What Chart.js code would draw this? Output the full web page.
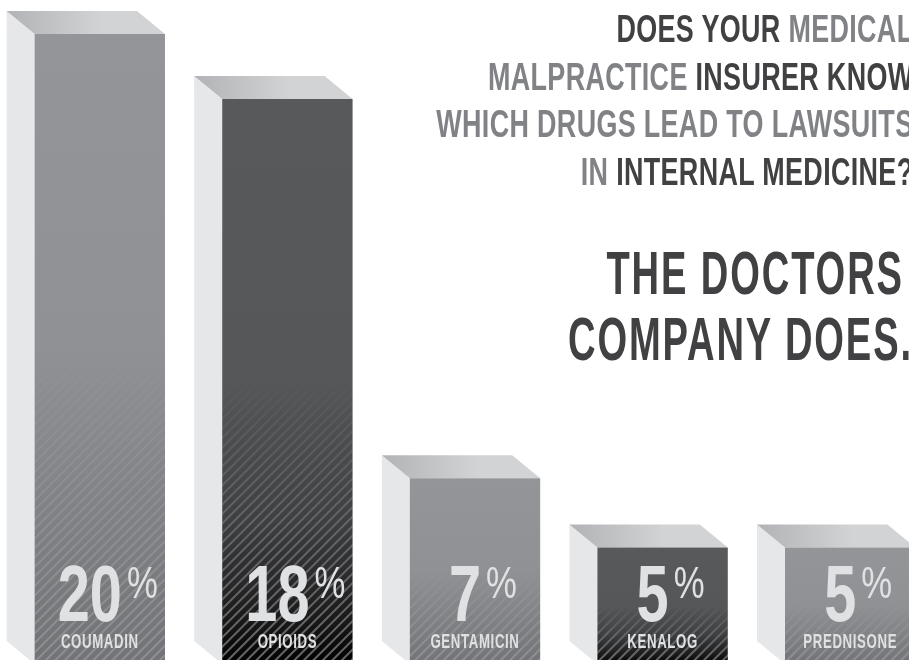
<!DOCTYPE html>
<html>
<head>
<meta charset="utf-8">
<script src="https://cdn.jsdelivr.net/npm/chart.js@4"></script>
<style>
    html, body { margin: 0; padding: 0; background: #fff; overflow: hidden; width: 909px; height: 660px; }
    #wrap { position: relative; width: 909px; height: 660px; overflow: hidden; }
    canvas { position: absolute; left: 0; top: 0; }
    .head { position: absolute; text-align: right; white-space: nowrap; font-family: "Liberation Sans", sans-serif; font-weight: 700; color: #808285; transform-origin: right top; }
    .head b { color: #414042; font-weight: 700; }
    #q { right: -4px; top: 5px; font-size: 39px; line-height: 47.7px; letter-spacing: 0.5px; transform: scaleX(0.69); }
    .big { font-size: 61px; line-height: 66px; letter-spacing: 3px; color: #414042; transform: scaleX(0.625); }
    #a1 { right: 5px; top: 240px; }
    #a2 { right: -4px; top: 306px; }
</style>
</head>
<body>
<div id="wrap">
    <canvas id="chart" width="944" height="664"></canvas>
    <div class="head" id="q">
        <b>DOES YOUR</b> MEDICAL<br>
        MALPRACTICE <b>INSURER KNOW</b><br>
        WHICH DRUGS LEAD TO LAWSUITS<br>
        IN <b>INTERNAL MEDICINE?</b>
    </div>
    <div class="head big" id="a1">THE DOCTORS</div>
    <div class="head big" id="a2">COMPANY DOES.</div>
</div>
<script>
const drugs = ["COUMADIN", "OPIOIDS", "GENTAMICIN", "KENALOG", "PREDNISONE"];
const percents = [20, 18, 7, 5, 5];
// the drawn bars are not to scale with the printed percents, these are read off the picture
const barHeights = [20, 17.94, 5.9, 3.7, 3.7];
const dark = [false, true, false, true, false];

const FONT = '"Liberation Sans", sans-serif';

// no condensed font installed, so squeeze the text horizontally
function squeezed(ctx, text, x, y, sx) {
    ctx.save();
    ctx.translate(x, y);
    ctx.scale(sx, 1);
    ctx.fillText(text, 0, 0);
    ctx.restore();
}

// side + top faces, drawn behind the front of the bar
const faces = {
    id: "faces",
    beforeDatasetsDraw(chart) {
        const ctx = chart.ctx;
        chart.getDatasetMeta(0).data.forEach(bar => {
            const l = bar.x - bar.width / 2, r = bar.x + bar.width / 2;
            ctx.save();
            ctx.fillStyle = "#e6e7e8";
            ctx.beginPath();
            ctx.moveTo(l - 28, bar.y - 23);
            ctx.lineTo(l, bar.y);
            ctx.lineTo(l, bar.base);
            ctx.lineTo(l - 28, bar.base - 23);
            ctx.closePath();
            ctx.fill();

            const g = ctx.createLinearGradient(l - 28, 0, r, 0);
            g.addColorStop(0, "#b1b3b6");
            g.addColorStop(0.6, "#d1d3d4");
            g.addColorStop(1, "#d1d3d4");
            ctx.fillStyle = g;
            ctx.beginPath();
            ctx.moveTo(l - 28, bar.y - 23);
            ctx.lineTo(r - 28, bar.y - 23);
            ctx.lineTo(r, bar.y);
            ctx.lineTo(l, bar.y);
            ctx.closePath();
            ctx.fill();
            ctx.restore();
        });
    },
    afterDatasetsDraw(chart) {
        const ctx = chart.ctx;
        chart.getDatasetMeta(0).data.forEach((bar, i) => {
            const l = bar.x - bar.width / 2, r = bar.x + bar.width / 2;
            const mid = (bar.y + bar.base) / 2;

            // hatching fades in from the middle of the bar
            ctx.save();
            ctx.beginPath();
            ctx.rect(l, bar.y, bar.width, bar.base - bar.y);
            ctx.clip();
            const g = ctx.createLinearGradient(0, mid, 0, bar.base);
            g.addColorStop(0, "rgba(255,255,255,0)");
            g.addColorStop(1, dark[i] ? "rgba(255,255,255,0.4)" : "rgba(255,255,255,0.2)");
            ctx.strokeStyle = g;
            ctx.lineWidth = 2;
            const h = bar.base - mid;
            for (let x = l - 10; x < r + h; x += 9.5) {
                ctx.beginPath();
                ctx.moveTo(x - h, bar.base);
                ctx.lineTo(x, mid);
                ctx.stroke();
            }
            ctx.restore();

            // labels
            const cx = bar.x;
            ctx.save();
            ctx.textBaseline = "alphabetic";
            ctx.textAlign = "left";
            ctx.fillStyle = "#e0e1e3";

            ctx.font = "700 21px " + FONT;
            ctx.letterSpacing = "1px";
            const ns = 0.63;
            squeezed(ctx, drugs[i], cx - ctx.measureText(drugs[i]).width * ns / 2, bar.base - 16, ns);
            ctx.letterSpacing = "0px";

            const num = String(percents[i]);
            ctx.font = "700 79px " + FONT;
            const nw = ctx.measureText(num).width * 0.73;
            ctx.font = "400 44px " + FONT;
            const pw = ctx.measureText("%").width * 0.79;
            const x0 = cx + 8 - (nw + 5 + pw) / 2;
            ctx.font = "700 79px " + FONT;
            squeezed(ctx, num, x0, bar.base - 43, 0.73);
            ctx.font = "400 44px " + FONT;
            squeezed(ctx, "%", x0 + nw + 5, bar.base - 66, 0.79);
            ctx.restore();
        });
    }
};

function frontFill(c) {
    const y = c.chart.scales.y;
    const isDark = dark[c.dataIndex];
    const top = y ? y.getPixelForValue(c.raw) : NaN;
    const base = y ? y.getPixelForValue(0) : NaN;
    if (!Number.isFinite(top) || !Number.isFinite(base)) return isDark ? "#58595b" : "#939598";
    const g = c.chart.ctx.createLinearGradient(0, top, 0, base);
    if (isDark) {
        g.addColorStop(0, "#58595b");
        g.addColorStop(0.5, "#565759");
        g.addColorStop(0.75, "#3e3f41");
        g.addColorStop(0.92, "#1a1a1b");
        g.addColorStop(1, "#000000");
    } else {
        g.addColorStop(0, "#939598");
        g.addColorStop(0.5, "#8f9194");
        g.addColorStop(1, "#727376");
    }
    return g;
}

new Chart(document.getElementById("chart"), {
    type: "bar",
    data: {
        labels: drugs,
        datasets: [{
            data: barHeights,
            backgroundColor: frontFill,
            categoryPercentage: 1,
            barPercentage: 0.695,
            borderWidth: 0
        }]
    },
    options: {
        responsive: false,
        animation: false,
        layout: { padding: { left: 6, right: 0, top: 34, bottom: 0 } },
        plugins: { legend: { display: false }, tooltip: { enabled: false }, title: { display: false } },
        scales: {
            x: { display: false },
            y: { display: false, min: 0, max: 20 }
        }
    },
    plugins: [faces]
});
</script>
</body>
</html>
